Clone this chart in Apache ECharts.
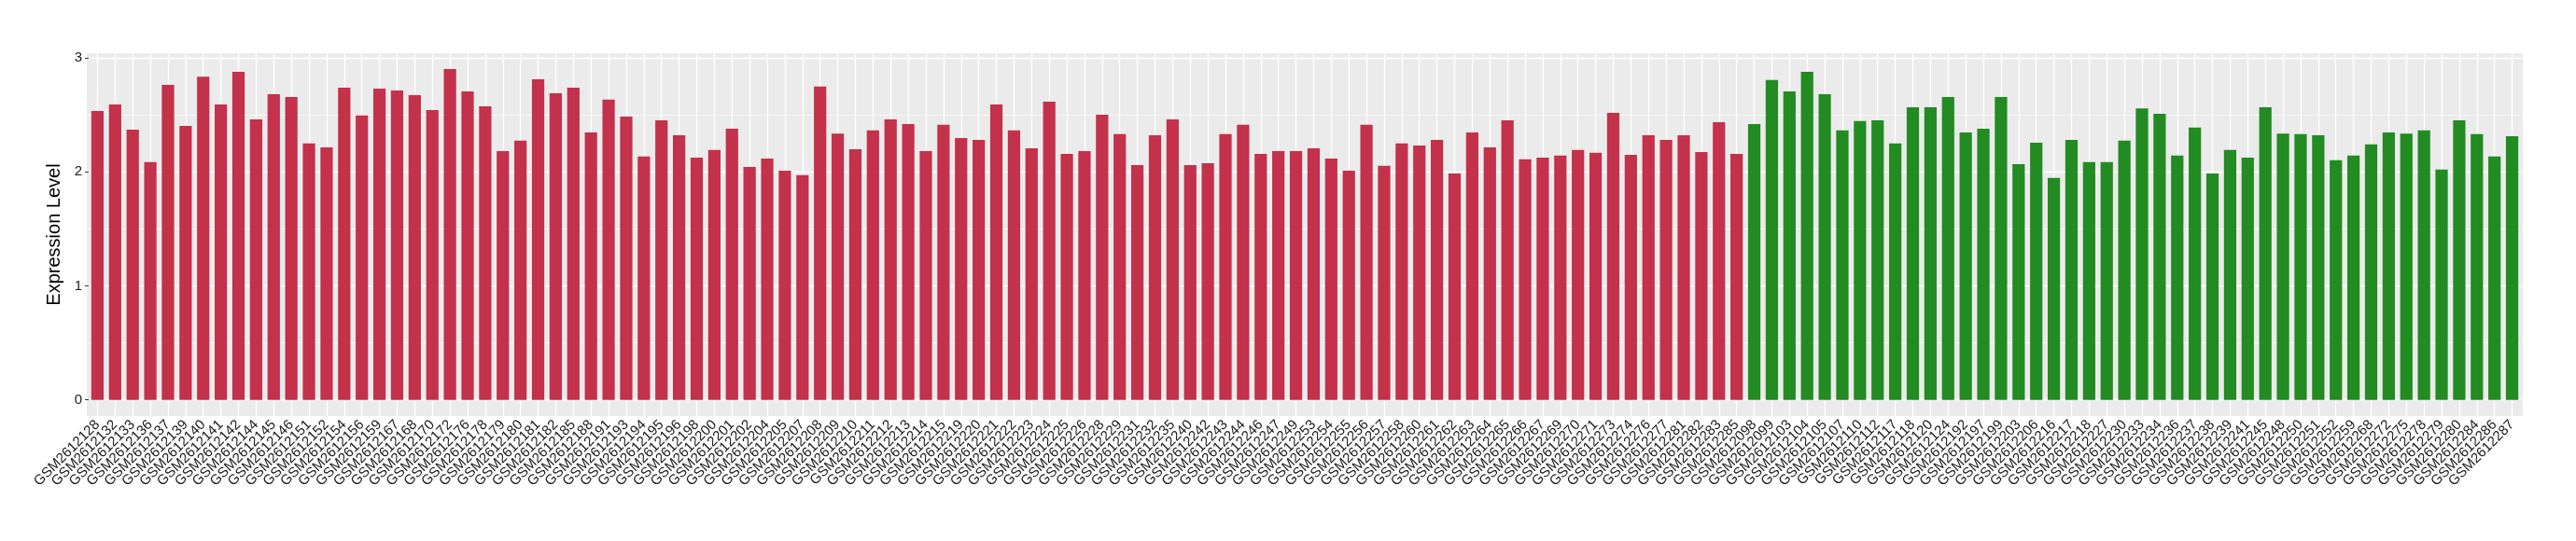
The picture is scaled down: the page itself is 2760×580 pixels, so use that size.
<!DOCTYPE html>
<html>
<head>
<meta charset="utf-8">
<script src="https://cdn.jsdelivr.net/npm/echarts@6/dist/echarts.min.js"></script>
<style>
html,body{margin:0;padding:0;background:#fff;}
#chart{width:2760px;height:580px;}
</style>
</head>
<body>
<div id="chart"></div>
<script>
// ---- data ----
const redSamples = ["GSM2612128","GSM2612132","GSM2612133","GSM2612136","GSM2612137","GSM2612139","GSM2612140","GSM2612141","GSM2612142","GSM2612144",
"GSM2612145","GSM2612146","GSM2612151","GSM2612152","GSM2612154","GSM2612156","GSM2612159","GSM2612167","GSM2612168","GSM2612170",
"GSM2612172","GSM2612176","GSM2612178","GSM2612179","GSM2612180","GSM2612181","GSM2612182","GSM2612185","GSM2612188","GSM2612191",
"GSM2612193","GSM2612194","GSM2612195","GSM2612196","GSM2612198","GSM2612200","GSM2612201","GSM2612202","GSM2612204","GSM2612205",
"GSM2612207","GSM2612208","GSM2612209","GSM2612210","GSM2612211","GSM2612212","GSM2612213","GSM2612214","GSM2612215","GSM2612219",
"GSM2612220","GSM2612221","GSM2612222","GSM2612223","GSM2612224","GSM2612225","GSM2612226","GSM2612228","GSM2612229","GSM2612231",
"GSM2612232","GSM2612235","GSM2612240","GSM2612242","GSM2612243","GSM2612244","GSM2612246","GSM2612247","GSM2612249","GSM2612253",
"GSM2612254","GSM2612255","GSM2612256","GSM2612257","GSM2612258","GSM2612260","GSM2612261","GSM2612262","GSM2612263","GSM2612264",
"GSM2612265","GSM2612266","GSM2612267","GSM2612269","GSM2612270","GSM2612271","GSM2612273","GSM2612274","GSM2612276","GSM2612277",
"GSM2612281","GSM2612282","GSM2612283","GSM2612285"];
const redValues = [2.534,2.591,2.371,2.087,2.764,2.404,2.836,2.591,2.879,2.461,
2.682,2.658,2.250,2.216,2.740,2.495,2.731,2.715,2.673,2.543,
2.903,2.706,2.576,2.183,2.274,2.812,2.691,2.740,2.347,2.634,
2.486,2.135,2.452,2.322,2.126,2.192,2.380,2.044,2.117,2.011,
1.972,2.749,2.337,2.198,2.365,2.461,2.419,2.183,2.413,2.298,
2.280,2.591,2.365,2.207,2.616,2.159,2.183,2.501,2.331,2.059,
2.322,2.461,2.059,2.077,2.331,2.413,2.159,2.183,2.183,2.207,
2.117,2.011,2.413,2.053,2.250,2.232,2.280,1.987,2.347,2.216,
2.452,2.111,2.126,2.144,2.192,2.168,2.519,2.150,2.322,2.280,
2.322,2.174,2.437,2.159];
const greenSamples = ["GSM2612098","GSM2612099","GSM2612103","GSM2612104","GSM2612105","GSM2612107","GSM2612110","GSM2612112","GSM2612117","GSM2612118",
"GSM2612120","GSM2612124","GSM2612192","GSM2612197","GSM2612199","GSM2612203","GSM2612206","GSM2612216","GSM2612217","GSM2612218",
"GSM2612227","GSM2612230","GSM2612233","GSM2612234","GSM2612236","GSM2612237","GSM2612238","GSM2612239","GSM2612241","GSM2612245",
"GSM2612248","GSM2612250","GSM2612251","GSM2612252","GSM2612259","GSM2612268","GSM2612272","GSM2612275","GSM2612278","GSM2612279",
"GSM2612280","GSM2612284","GSM2612286","GSM2612287"];
const greenValues = [2.419,2.806,2.706,2.879,2.682,2.365,2.446,2.452,2.250,2.567,
2.567,2.658,2.347,2.380,2.658,2.068,2.256,1.947,2.280,2.087,
2.087,2.274,2.558,2.510,2.144,2.389,1.987,2.192,2.126,2.567,
2.337,2.331,2.322,2.102,2.144,2.241,2.347,2.337,2.365,2.020,
2.452,2.331,2.135,2.313];
const yTicks = [0, 1, 2, 3];
const yMinorTicks = [0.5, 1.5, 2.5];
const yTitle = "Expression Level";

// ---- build ----
const categories = redSamples.concat(greenSamples);
const redData = redValues.concat(greenSamples.map(() => '-'));
const greenData = redSamples.map(() => '-').concat(greenValues);

const FONT = "'Liberation Sans', Arial, Helvetica, sans-serif";
const chart = echarts.init(document.getElementById('chart'), null, {renderer: 'canvas'});

const gridLines = [];
yTicks.forEach(v => gridLines.push({yAxis: v, lineStyle: {color: '#ffffff', width: 1.3, type: 'solid'}}));
yMinorTicks.forEach(v => gridLines.push({yAxis: v, lineStyle: {color: '#ffffff', width: 0.6, type: 'solid'}}));
categories.forEach(c => gridLines.push({xAxis: c, lineStyle: {color: '#ffffff', width: 1.3, type: 'solid'}}));

const option = {
  animation: false,
  backgroundColor: '#ffffff',
  graphic: [{
    type: 'rect', z: -10, silent: true,
    shape: {x: 93, y: 57, width: 2610, height: 389},
    style: {fill: '#EBEBEB'}
  }],
  grid: {left: 95, right: 59, top: 57, bottom: 134, containLabel: false},
  xAxis: {
    type: 'category',
    data: categories,
    boundaryGap: true,
    axisLine: {show: false},
    axisTick: {show: true, alignWithLabel: true, length: 4, lineStyle: {color: '#333333', width: 1}},
    splitLine: {show: false},
    axisLabel: {
      interval: 0, rotate: 45, margin: 7,
      fontFamily: FONT, fontSize: 15, color: '#1a1a1a'
    }
  },
  yAxis: {
    type: 'value',
    min: -0.142, max: 3.042,
    axisLine: {show: false},
    splitLine: {show: false},
    axisTick: {show: true, length: 4, customValues: yTicks, lineStyle: {color: '#333333', width: 1}},
    axisLabel: {
      customValues: yTicks, margin: 7,
      fontFamily: FONT, fontSize: 15, color: '#1a1a1a',
      formatter: v => String(v)
    },
    name: yTitle,
    nameLocation: 'middle',
    nameRotate: 90,
    nameGap: 14,
    nameTextStyle: {fontFamily: FONT, fontSize: 20, color: '#000000'}
  },
  series: [
    {
      type: 'bar', name: 'red', data: redData, barWidth: '70%', barGap: '-100%',
      itemStyle: {color: '#C3314A'}, z: 2,
      markLine: {
        silent: true, symbol: ['none', 'none'], z: 1, animation: false,
        label: {show: false}, emphasis: {disabled: true},
        data: gridLines
      }
    },
    {
      type: 'bar', name: 'green', data: greenData, barWidth: '70%', barGap: '-100%',
      itemStyle: {color: '#228B22'}, z: 2
    }
  ]
};
chart.setOption(option);
</script>
</body>
</html>
